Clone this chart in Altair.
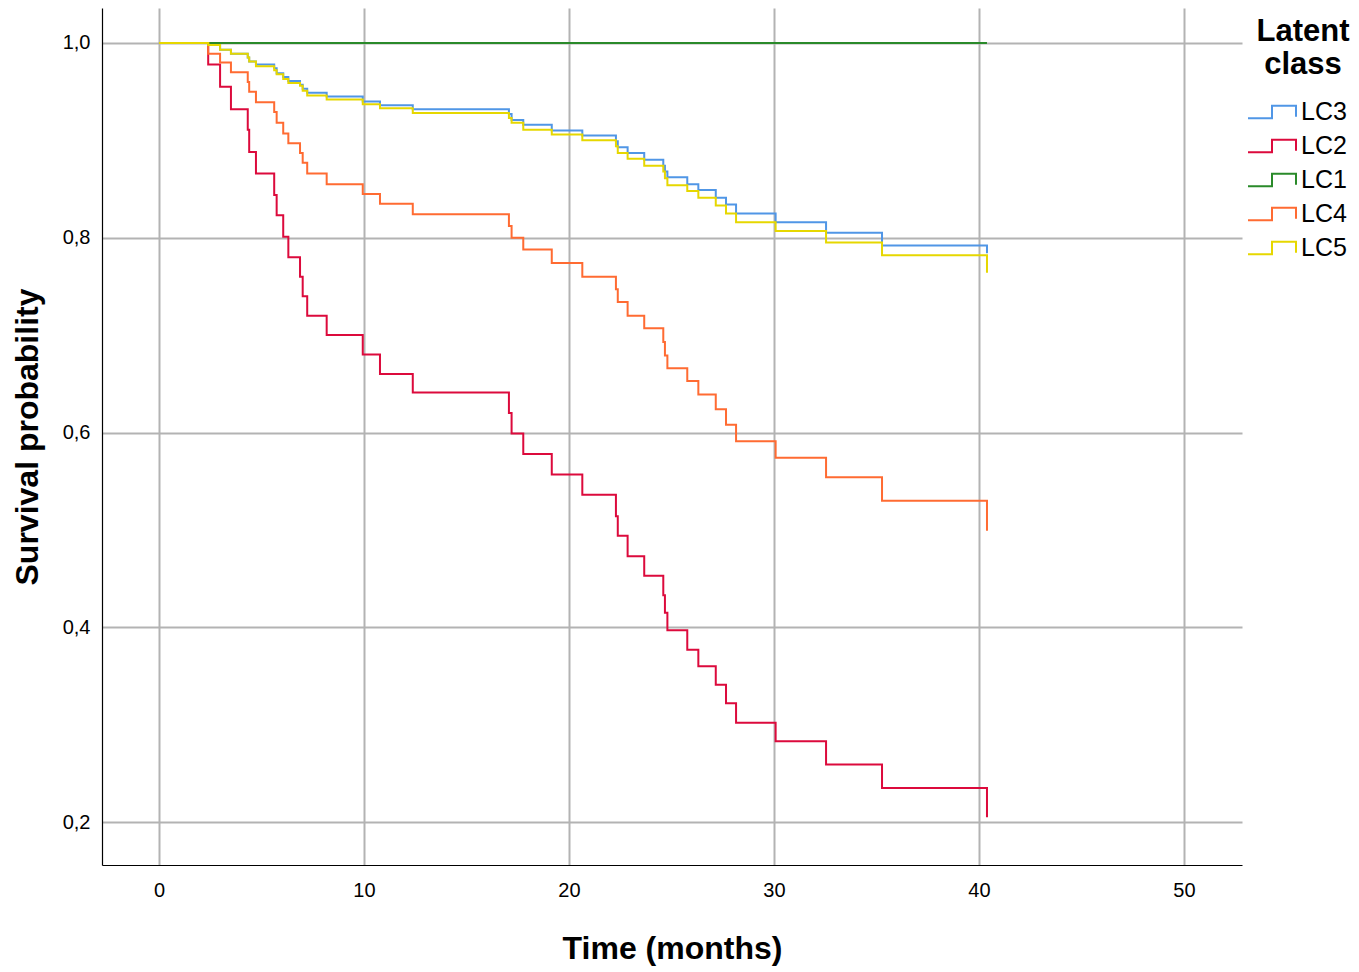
import altair as alt
import pandas as pd

times = [0, 2.40, 2.98, 3.51, 4.33, 4.40, 4.73, 5.62, 5.74, 6.06, 6.31, 6.88, 7.01, 7.23,
         8.18, 9.94, 10.78, 12.38, 17.07, 17.20, 17.77, 19.16, 20.65, 22.29, 22.38, 22.86,
         23.67, 24.60, 24.68, 24.80, 25.77, 26.31, 27.16, 27.66, 28.15, 30.08, 32.54, 35.27, 40.39]

lc3 = [1.0, 0.998, 0.993, 0.989, 0.985, 0.981, 0.978, 0.974, 0.969, 0.965, 0.961, 0.957, 0.953,
       0.949, 0.945, 0.940, 0.936, 0.932, 0.927, 0.921, 0.916, 0.910, 0.905, 0.899, 0.893, 0.887,
       0.880, 0.874, 0.868, 0.862, 0.855, 0.849, 0.841, 0.834, 0.825, 0.816, 0.805, 0.792, 0.784]
lc2 = [1.0, 0.978, 0.955, 0.932, 0.911, 0.888, 0.866, 0.844, 0.823, 0.801, 0.780, 0.760, 0.740,
       0.720, 0.700, 0.680, 0.660, 0.641, 0.620, 0.599, 0.578, 0.557, 0.536, 0.514, 0.494, 0.473,
       0.453, 0.433, 0.415, 0.397, 0.377, 0.360, 0.341, 0.322, 0.302, 0.283, 0.259, 0.235, 0.205]
lc1 = [1.0] * len(times)
lc4 = [1.0, 0.989, 0.980, 0.970, 0.960, 0.950, 0.939, 0.929, 0.918, 0.907, 0.897, 0.887, 0.877,
       0.866, 0.855, 0.845, 0.835, 0.824, 0.812, 0.800, 0.788, 0.774, 0.760, 0.747, 0.734, 0.720,
       0.707, 0.693, 0.679, 0.666, 0.653, 0.639, 0.624, 0.608, 0.591, 0.574, 0.554, 0.530, 0.499]
lc5 = [1.0, 0.998, 0.993, 0.989, 0.985, 0.981, 0.976, 0.972, 0.968, 0.963, 0.959, 0.956, 0.951,
       0.946, 0.942, 0.937, 0.933, 0.928, 0.923, 0.918, 0.911, 0.906, 0.900, 0.894, 0.887, 0.881,
       0.874, 0.868, 0.861, 0.854, 0.848, 0.841, 0.833, 0.825, 0.816, 0.807, 0.795, 0.782, 0.764]

classes = ["LC3", "LC2", "LC1", "LC4", "LC5"]
series = [lc3, lc2, lc1, lc4, lc5]
colors = ["#5096e6", "#dc0a3c", "#2a8a2a", "#ff6b32", "#e6d700"]

rows = []
for order, (name, vals) in enumerate(zip(classes, series)):
    for t, v in zip(times, vals):
        rows.append({"time": t, "surv": v, "cls": name, "ord": order})
df = pd.DataFrame(rows)

FONT = "Liberation Sans"
step_symbol = "M-2,0.52L0,0.52L0,-0.52L2,-0.52L2,0.4"

chart = alt.Chart(df).mark_line(interpolate="step-after", strokeWidth=2).encode(
    x=alt.X("time:Q",
            scale=alt.Scale(domain=[-2.78, 52.83], nice=False, zero=False),
            axis=alt.Axis(values=[0, 10, 20, 30, 40, 50], title="Time (months)",
                          grid=True, ticks=False, labelPadding=15, titlePadding=33,
                          format="d")),
    y=alt.Y("surv:Q",
            scale=alt.Scale(domain=[0.1559, 1.0359], nice=False, zero=False),
            axis=alt.Axis(values=[0.2, 0.4, 0.6, 0.8, 1.0], title="Survival probability",
                          grid=True, ticks=False, labelPadding=12, titlePadding=18,
                          labelExpr="replace(format(datum.value, '.1f'), '.', ',')")),
    color=alt.Color("cls:N",
                    scale=alt.Scale(domain=classes, range=colors),
                    legend=alt.Legend(title=["Latent", "class"], orient="none",
                                      legendX=1155, legendY=9,
                                      symbolType=step_symbol, symbolSize=576,
                                      symbolStrokeWidth=2, symbolFillColor="transparent",
                                      labelFontSize=25, labelFont=FONT, labelOffset=16,
                                      titleFontSize=31, titleFont=FONT, titleFontWeight="bold",
                                      titleLineHeight=33, titleAlign="center",
                                      titleAnchor="middle", titlePadding=18, rowPadding=8,
                                      titleColor="black", labelColor="black")),
    detail="ord:O",
    order="time:Q",
).properties(
    width=1140, height=857,
    autosize=alt.AutoSizeParams(type="none"),
    padding={"left": 94, "top": 0, "right": 109, "bottom": 105},
).configure_view(
    stroke=None
).configure_axis(
    gridColor="#b3b3b3", gridWidth=2, domainColor="black", domainWidth=1.2,
    labelFont=FONT, labelFontSize=20, labelColor="black",
    titleFont=FONT, titleFontSize=32, titleFontWeight="bold", titleColor="black"
)

chart.save("out.html", embed_options={"renderer": "svg", "actions": False})
